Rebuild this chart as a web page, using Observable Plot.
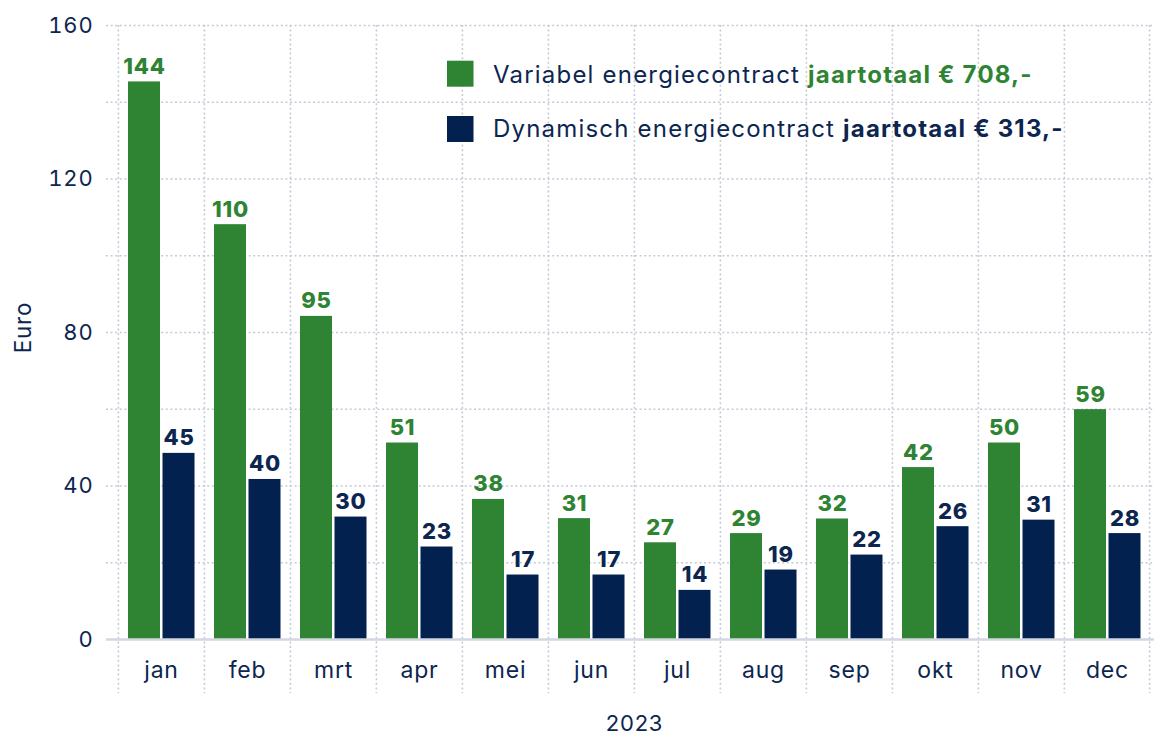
<!DOCTYPE html>
<html>
<head>
<meta charset="utf-8">
<script src="https://cdn.jsdelivr.net/npm/d3@7"></script>
<script src="https://cdn.jsdelivr.net/npm/@observablehq/plot@0.6"></script>
<style>
  html, body { margin: 0; padding: 0; background: #ffffff; }
  #chart { width: 1154px; height: 737px; }
</style>
</head>
<body>
<div id="chart"></div>
<script>
// ---- data ----
const months = ["jan", "feb", "mrt", "apr", "mei", "jun", "jul", "aug", "sep", "okt", "nov", "dec"];
// bar heights as drawn
const variabel = [145.3, 108.1, 84.2, 51.2, 36.5, 31.5, 25.2, 27.6, 31.4, 44.8, 51.2, 59.9];
const dynamisch = [48.5, 41.7, 31.9, 24.1, 16.8, 16.8, 12.8, 18.1, 22.0, 29.4, 31.1, 27.6];
// value labels as printed
const variabelLabels = ["144", "110", "95", "51", "38", "31", "27", "29", "32", "42", "50", "59"];
const dynamischLabels = ["45", "40", "30", "23", "17", "17", "14", "19", "22", "26", "31", "28"];
const yTicks = [0, 40, 80, 120, 160];
const yGrid = [20, 40, 60, 80, 100, 120, 140, 160];
const seriesNames = ["Variabel energiecontract", "Dynamisch energiecontract"];
const seriesTotals = ["jaartotaal € 708,-", "jaartotaal € 313,-"];
const yLabel = "Euro";
const xLabel = "2023";

// ---- styles ----
const green = "#2e8433";
const navy = "#02214f";
const textNavy = "#0c2650";
const gridColor = "#c5cad8";
const font = "Inter, 'Open Sans', sans-serif";

const W = 1154, H = 737, ML = 117, MR = 3, MT = 25, MB = 98;
const bw = (W - ML - MR) / months.length;

const varData = months.map((m, i) => ({month: m, value: variabel[i], label: variabelLabels[i]}));
const dynData = months.map((m, i) => ({month: m, value: dynamisch[i], label: dynamischLabels[i]}));

const gridStyle = {stroke: gridColor, strokeWidth: 1.6, strokeDasharray: "2,2.6"};

const plot = Plot.plot({
  width: W, height: H,
  marginLeft: ML, marginRight: MR, marginTop: MT, marginBottom: MB,
  x: {domain: months, padding: 0},
  y: {domain: [0, 160]},
  style: {fontFamily: font, color: textNavy, background: "#ffffff", overflow: "visible", letterSpacing: "0.8px"},
  marks: [
    Plot.ruleY(yGrid, {...gridStyle, insetLeft: -11, insetRight: -MR}),
    Plot.ruleX(months, {...gridStyle, dx: -bw / 2, insetBottom: -54}),
    Plot.ruleX(months.slice(-1), {...gridStyle, dx: bw / 2 - 1, insetBottom: -54}),
    Plot.barY(varData, {x: "month", y: "value", fill: green, insetLeft: 10, insetRight: 44}),
    Plot.barY(dynData, {x: "month", y: "value", fill: navy, insetLeft: 44.5, insetRight: 9.5}),
    Plot.ruleY([0], {stroke: "#d2d7e2", strokeWidth: 2.5, insetLeft: -11, insetRight: -MR}),
    Plot.text(varData, {x: "month", y: "value", text: "label", dx: -17, dy: -8, lineAnchor: "bottom",
      fill: green, fontWeight: 800, fontSize: 22}),
    Plot.text(dynData, {x: "month", y: "value", text: "label", dx: 17.5, dy: -8, lineAnchor: "bottom",
      fill: textNavy, fontWeight: 800, fontSize: 22}),
    Plot.axisY({ticks: yTicks, tickSize: 0, tickPadding: 24, fontSize: 22, label: null}),
    Plot.axisX({tickSize: 0, tickPadding: 22, fontSize: 23, label: null}),
    Plot.text([yLabel], {frameAnchor: "left", textAnchor: "middle", lineAnchor: "middle", rotate: -90,
      dx: -93.5, dy: -5, fontSize: 22.5, fill: textNavy}),
    Plot.text([xLabel], {frameAnchor: "bottom", textAnchor: "middle", lineAnchor: "middle", dy: 84,
      fontSize: 22, fill: textNavy})
  ]
});

// ---- legend (inside the plot area, top right) ----
const svg = d3.select(plot);
const colors = [green, navy];
const totalColors = [green, textNavy];
const leg = svg.append("g").attr("font-family", font).attr("text-anchor", "start");
seriesNames.forEach((name, i) => {
  const top = 60.7 + i * 55.3;
  leg.append("rect").attr("x", 447).attr("y", top).attr("width", 26.5).attr("height", 26).attr("fill", colors[i]);
  const t = leg.append("text").attr("x", 493).attr("y", 82.7 + i * 54)
    .attr("font-size", 24).attr("letter-spacing", "1.2px").attr("fill", textNavy);
  t.append("tspan").text(name + " ");
  t.append("tspan").attr("font-weight", 700).attr("fill", totalColors[i]).text(seriesTotals[i]);
});

document.getElementById("chart").appendChild(plot);
</script>
</body>
</html>
